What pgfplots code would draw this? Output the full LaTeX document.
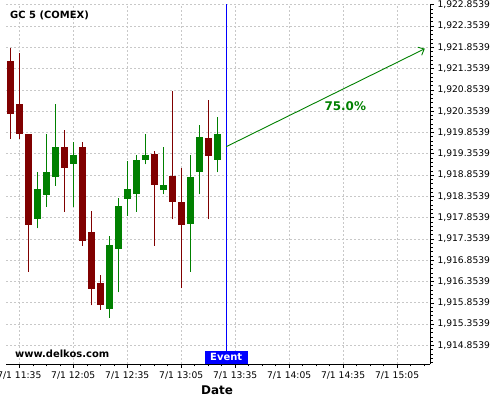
\documentclass[border=0pt]{standalone}
\usepackage{pgfplots}
\pgfplotsset{compat=1.18}
\usepackage{pgfplotstable}
\usepackage{fontspec}
\setmainfont{DejaVu Sans}
\usetikzlibrary{arrows.meta}
\definecolor{cred}{HTML}{800000}
\definecolor{cgreen}{HTML}{008000}
\definecolor{gridc}{HTML}{C8C8C8}

% x = minutes after 7/1 11:35
\pgfplotstableread{
x o h l c
-5 1921.532 1921.837 1919.707 1920.318
0 1920.522 1921.713 1919.707 1919.817
5 1919.817 1919.817 1916.583 1917.704
25 1919.512 1919.911 1917.993 1919.026
35 1919.512 1919.622 1917.194 1917.312
40 1917.516 1918.009 1915.794 1916.208
45 1916.318 1916.506 1915.691 1915.808
75 1919.324 1919.411 1917.194 1918.627
85 1918.815 1920.820 1917.814 1918.227
90 1918.220 1919.012 1916.194 1917.711
105 1919.723 1920.616 1917.814 1919.324
}\redcandles

\pgfplotstableread{
x o h l c
10 1917.828 1918.925 1917.603 1918.526
15 1918.415 1919.810 1918.110 1918.925
20 1918.815 1920.515 1918.603 1919.512
30 1919.120 1919.629 1918.110 1919.324
50 1915.715 1917.415 1915.503 1917.211
55 1917.124 1918.307 1916.100 1918.126
60 1918.321 1919.190 1917.903 1918.526
65 1918.415 1919.317 1917.993 1919.207
70 1919.214 1919.810 1919.106 1919.324
80 1918.533 1919.505 1918.401 1918.620
95 1917.711 1919.317 1916.583 1918.807
100 1918.932 1920.022 1918.401 1919.723
110 1919.214 1920.210 1918.918 1919.817
}\greencandles

\begin{document}
\begin{tikzpicture}
\begin{axis}[
  scale only axis,
  width=424bp, height=360bp,
  at={(0,0)}, anchor=south west,
  xmin=-7.4, xmax=228.3,
  ymin=1914.416, ymax=1922.87,
  axis x line=bottom,
  axis y line=right,
  axis line style={-, line width=0.9bp, black},
  tick align=outside,
  major tick length=4bp,
  minor tick length=2.5bp,
  tick style={black, line width=0.5bp},
  xtick={0,30,60,90,120,150,180,210},
  xticklabels={7/1 11:35,7/1 12:05,7/1 12:35,7/1 13:05,7/1 13:35,7/1 14:05,7/1 14:35,7/1 15:05},
  minor xtick={-7.5,7.5,15,22.5,37.5,45,52.5,67.5,75,82.5,97.5,105,112.5,127.5,135,142.5,157.5,165,172.5,187.5,195,202.5,217.5,225},
  ytick={1914.8539,1915.3539,1915.8539,1916.3539,1916.8539,1917.3539,1917.8539,1918.3539,1918.8539,1919.3539,1919.8539,1920.3539,1920.8539,1921.3539,1921.8539,1922.3539,1922.8539},
  minor ytick={1914.4539,1914.5539,...,1922.8539},
  scaled y ticks=false,
  yticklabel pos=right,
  yticklabel style={/pgf/number format/.cd, fixed, fixed zerofill, precision=4, 1000 sep={,}},
  /pgf/number format/assume math mode=true,
  ticklabel style={font=\fontsize{9.2}{11}\selectfont, text=black},
  grid=major,
  major grid style={gridc, dash pattern=on 2bp off 2bp, line width=0.6bp},
  xlabel={Date},
  xlabel style={at={(axis description cs:0.4976,0)}, anchor=center, yshift=-26bp, font=\bfseries\fontsize{12}{14}\selectfont},
  clip=true,
]
% wicks
\addplot[draw=none, mark=none, forget plot,
  error bars/.cd, y dir=plus, y explicit, error mark=none,
  error bar style={draw=cred, line width=1.1bp}]
  table[x=x, y=l, y error expr=\thisrow{h}-\thisrow{l}] {\redcandles};
\addplot[draw=none, mark=none, forget plot,
  error bars/.cd, y dir=plus, y explicit, error mark=none,
  error bar style={draw=cgreen, line width=1.1bp}]
  table[x=x, y=l, y error expr=\thisrow{h}-\thisrow{l}] {\greencandles};
% bodies
\addplot[draw=none, mark=none, forget plot,
  error bars/.cd, y dir=both, y explicit, error mark=none,
  error bar style={draw=cred, line width=7bp}]
  table[x=x, y expr=(\thisrow{o}+\thisrow{c})/2, y error expr=abs(\thisrow{o}-\thisrow{c})/2+0.01] {\redcandles};
\addplot[draw=none, mark=none, forget plot,
  error bars/.cd, y dir=both, y explicit, error mark=none,
  error bar style={draw=cgreen, line width=7bp}]
  table[x=x, y expr=(\thisrow{o}+\thisrow{c})/2, y error expr=abs(\thisrow{o}-\thisrow{c})/2+0.01] {\greencandles};
% event line
\addplot[blue, line width=1bp, forget plot] coordinates {(115,1914.416) (115,1922.87)};
% forecast arrow
\addplot[cgreen, line width=0.9bp, -{Straight Barb[length=5bp, width=9bp]}, forget plot]
  coordinates {(115,1919.519) (225.4,1921.82)};
\node[font=\bfseries\fontsize{12}{14}\selectfont, text=cgreen] at (axis cs:181.2,1920.475) {75.0\%};
\node[fill=blue, text=white, font=\bfseries\fontsize{10}{12}\selectfont, anchor=south, inner xsep=5.5bp, inner ysep=1.5bp, text height=8bp, text depth=1.5bp] at (axis cs:115,1914.416) {Event};
\node[font=\bfseries\fontsize{10}{12}\selectfont, anchor=west, inner sep=0pt] at (rel axis cs:0.021,0.028) {www.delkos.com};
\node[font=\bfseries\fontsize{10}{12}\selectfont, anchor=west, inner sep=0pt] at (rel axis cs:0.0094,0.969) {GC 5 (COMEX)};
\end{axis}
\pgfresetboundingbox
\useasboundingbox (-6bp,-36bp) rectangle (494bp,364bp);
\end{tikzpicture}
\end{document}
